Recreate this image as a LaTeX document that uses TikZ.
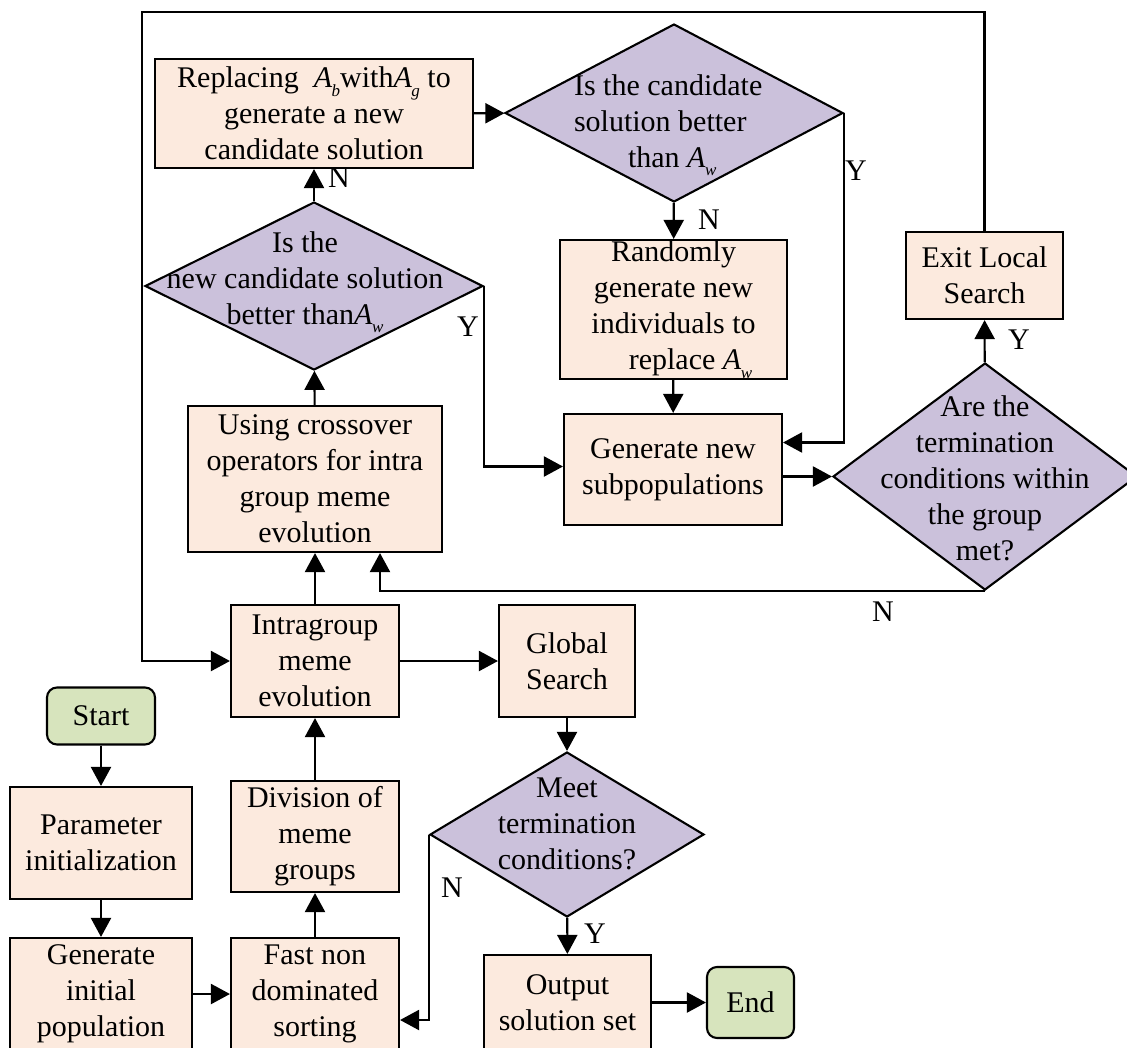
\documentclass[tikz,border=0pt]{standalone}
\usepackage{fontspec}
\setmainfont{Liberation Serif}
\usetikzlibrary{shapes.geometric,arrows.meta}
\definecolor{boxfill}{HTML}{FCEADE}
\definecolor{decfill}{HTML}{CBC1DB}
\definecolor{termfill}{HTML}{D7E4BD}
% italic A with a small italic subscript
\newcommand{\Asub}[1]{\textit{A}\kern-0.5pt\raisebox{-0.28em}{\fontsize{17}{17}\selectfont\textit{#1}}}
\begin{document}
\begin{tikzpicture}[x=1pt,y=-1pt,line width=2.1pt,
  font=\fontsize{30}{36}\selectfont,
  >={Triangle[length=19pt,width=20pt]},
  proc/.style={draw,fill=boxfill,rectangle,align=center,inner sep=0pt},
  dec/.style={draw,fill=decfill,diamond,inner sep=0pt},
  term/.style={draw,fill=termfill,rectangle,rounded corners=10pt,align=center,inner sep=0pt},
  dtext/.style={inner sep=0pt,align=center},
  lbl/.style={inner sep=0pt}]
\useasboundingbox (0,0) rectangle (1127,1047);

% terminals
\node[term,minimum width=108pt,minimum height=57pt] (start) at (101,716) {Start};
\node[term,minimum width=87pt,minimum height=71pt] (end) at (750.5,1002.5) {End};

% process boxes
\node[proc,minimum width=182pt,minimum height=112pt] (param) at (101,843) {Parameter\\initialization};
\node[proc,minimum width=182pt,minimum height=112pt] (geninit) at (101,994) {Generate\\initial\\population};
\node[proc,minimum width=168pt,minimum height=112pt] (fastnd) at (315,994) {Fast non\\dominated\\sorting};
\node[proc,minimum width=168pt,minimum height=111pt] (division) at (315,836.5) {Division of\\meme\\groups};
\node[proc,minimum width=168pt,minimum height=112pt] (intra) at (315,661) {Intragroup\\meme\\evolution};
\node[proc,minimum width=136pt,minimum height=112pt] (global) at (567,661) {Global\\Search};
\node[proc,minimum width=167pt,minimum height=95pt] (output) at (567.5,1002.5) {Output\\solution set};
\node[proc,minimum width=254pt,minimum height=146pt] (crossover) at (315,479) {Using crossover\\operators for intra\\group meme\\evolution};
\node[proc,minimum width=318pt,minimum height=109pt] (replacing) at (314,113.5) {Replacing\ \ \Asub{b}with\Asub{g}\ to\\generate a new\\candidate solution};
\node[proc,minimum width=227pt,minimum height=139pt] (random) at (673.5,309.5) {Randomly\\generate new\\individuals to\\\hspace*{34pt}replace \Asub{w}};
\node[proc,minimum width=218pt,minimum height=111pt] (gensub) at (673,469.5) {Generate new\\subpopulations};
\node[proc,minimum width=157pt,minimum height=87pt] (exit) at (984.5,275.5) {Exit Local\\Search};

% decisions
\node[dec,minimum width=338pt,minimum height=168pt] (d1) at (314,286) {};
\node[dtext] (d1t) at (305,282) {Is the\\new candidate solution\\better than\Asub{w}};
\node[dec,minimum width=338pt,minimum height=178pt] (d2) at (674,113) {};
\node[dtext,anchor=west,align=left] (d2t) at (573,125) {Is the candidate\\solution better\\\hspace*{1.8em}than \Asub{w}};
\node[dec,minimum width=304pt,minimum height=227pt] (d3) at (985,476.5) {};
\node[dtext] (d3t) at (985,478) {Are the\\termination\\conditions within\\the group\\met?};
\node[dec,minimum width=274pt,minimum height=165pt] (meet) at (567,834.5) {};
\node[dtext] (meett) at (567,824) {Meet\\termination\\conditions?};

% corner of the outer feedback loop
\coordinate (tl) at (142,12);

% connectors
\draw[->] (start) -- (param);
\draw[->] (param) -- (geninit);
\draw[->] (geninit) -- (fastnd);
\draw[->] (fastnd) -- (division);
\draw[->] (division) -- (intra);
\draw[->] (intra) -- (crossover);
\draw[->] (crossover) -- (d1);
\draw[->] (d1) -- (replacing);
\draw[->] (replacing) -- (d2);
\draw[->] (d2) -- (random);
\draw[->] (d2.east) |- ([yshift=27pt]gensub.east);
\draw[->] (d1.east) |- ([yshift=3pt]gensub.west);
\draw[->] (random) -- (gensub);
\draw[->] (gensub.east |- d3.west) -- (d3.west);
\draw[->] (d3) -- (exit);
\draw[->] (exit.north) |- (tl) |- (intra.west);
\draw[->] (d3.south) -| ([xshift=65pt]crossover.south);
\draw[->] (intra) -- (global);
\draw[->] (global) -- (meet);
\draw[->] (meet) -- (output);
\draw[->] (meet.west) |- ([yshift=-26pt]fastnd.east);
\draw[->] (output) -- (end);

% branch labels
\node[lbl] (n1) at (339,178) {N};
\node[lbl] (y1) at (468,327) {Y};
\node[lbl] (n2) at (709,220) {N};
\node[lbl] (y2) at (856,171) {Y};
\node[lbl] (y3) at (1019,340) {Y};
\node[lbl] (n3) at (883,612) {N};
\node[lbl] (y4) at (595,934) {Y};
\node[lbl] (n4) at (452,888) {N};
\end{tikzpicture}
\end{document}
